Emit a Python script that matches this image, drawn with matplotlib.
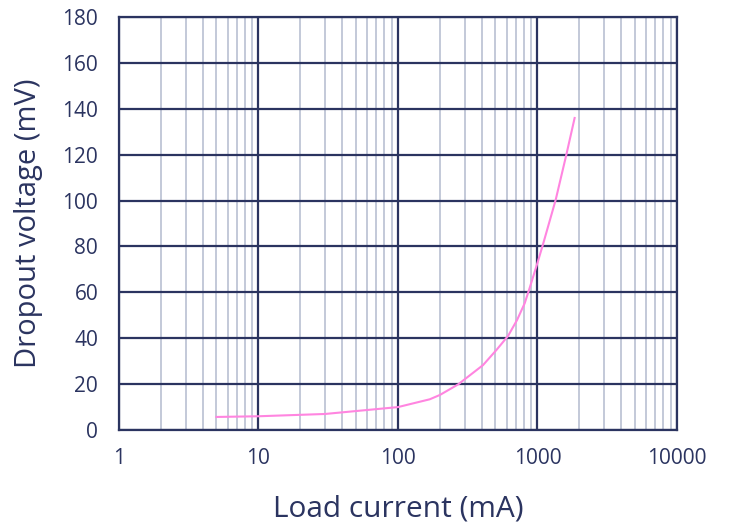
import matplotlib
matplotlib.use("Agg")
import matplotlib.pyplot as plt
import numpy as np
from matplotlib.ticker import LogLocator, FixedLocator, FixedFormatter

current_ma = [5, 10, 30, 100, 169, 200, 270, 407, 508, 615, 713, 809, 869,
              998, 1096, 1350, 1610, 1846]
dropout_mv = [5.7, 6.0, 7.0, 10, 13.4, 15.3, 19.9, 28.3, 34.9, 41, 47.9, 55.2, 61,
              72.7, 81, 100.3, 120, 136]

x_ticks = [1, 10, 100, 1000, 10000]
x_labels = ["1", "10", "100", "1000", "10000"]
y_ticks = list(range(0, 181, 20))

navy = "#2b3460"
minor_c = "#c3c9d8"
pink = "#ff85e0"

plt.rcParams['font.family'] = ['Open Sans', 'DejaVu Sans']

fig = plt.figure(figsize=(7.33, 5.27), dpi=100)
ax = fig.add_axes([0.1623, 0.184, 0.7613, 0.7837])
ax.set_xscale('log')
ax.set_xlim(1, 10000)
ax.set_ylim(0, 180)

ax.xaxis.set_major_locator(FixedLocator(x_ticks))
ax.xaxis.set_major_formatter(FixedFormatter(x_labels))
ax.xaxis.set_minor_locator(LogLocator(base=10, subs=np.arange(2, 10)))
ax.xaxis.set_minor_formatter(matplotlib.ticker.NullFormatter())
ax.set_yticks(y_ticks)

ax.grid(which='minor', axis='x', color=minor_c, linewidth=1.4)
ax.grid(which='major', axis='both', color=navy, linewidth=1.6)
ax.set_axisbelow(True)

ax.plot(current_ma, dropout_mv, color=pink, linewidth=1.5)

for s in ax.spines.values():
    s.set_color(navy)
    s.set_linewidth(1.6)

ax.tick_params(which='both', length=0, colors=navy, labelsize=15)
ax.tick_params(axis='x', pad=13)
ax.tick_params(axis='y', pad=15)

ax.set_xlabel("Load current (mA)", fontsize=21.5, color=navy, labelpad=18)
ax.set_ylabel("Dropout voltage (mV)", fontsize=21, color=navy, labelpad=14)

fig.savefig("out.png", dpi=100)
